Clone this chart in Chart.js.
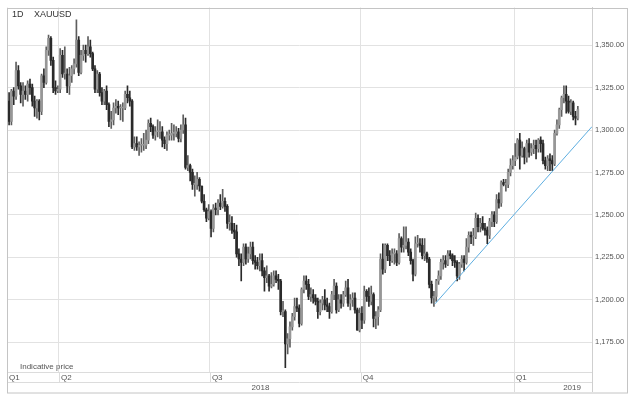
<!DOCTYPE html>
<html>
<head>
<meta charset="utf-8">
<script src="https://cdn.jsdelivr.net/npm/chart.js@4.4.1/dist/chart.umd.min.js"></script>
<style>
  html, body { margin: 0; padding: 0; background: #fff; }
  #wrap { width: 633px; height: 399px; }
</style>
</head>
<body>
<div id="wrap"><canvas id="goldChart" width="633" height="399"></canvas></div>
<script>
// XAUUSD daily candles, one entry per trading day (1 Mar 2018 - 8 Feb 2019)
// grouped by month: Mar, Apr, May, Jun, Jul, Aug, Sep, Oct, Nov, Dec, Jan, Feb
const opens = [
  1317,1305,1323,1320,1335,1326,1321,1323,1321,1327,1325,1317,1313,1317,1311,1332,1328,1347,1354,1341,1325,1323,
  1324,1344,1333,1333,1326,1332,1336,1339,1353,1334,1344,1347,1345,1349,1345,1336,1324,1333,1322,1317,1323,
  1315,1305,1306,1313,1314,1313,1313,1313,1321,1319,1317,1290,1292,1290,1291,1291,1291,1294,1304,1302,1297,1299,1299,
  1299,1294,1292,1297,1297,1298,1298,1299,1295,1300,1303,1278,1279,1275,1268,1268,1271,1267,1258,1253,1248,
  1252,1242,1254,1253,1257,1255,1258,1255,1245,1245,1241,1240,1227,1224,1222,1231,1224,1227,1231,1223,1222,1220,
  1223,1217,1213,1214,1208,1209,1214,1212,1211,1193,1193,1174,1177,1184,1190,1196,1195,1186,1206,1211,1209,1202,1203,
  1201,1199,1193,1198,1200,1197,1196,1193,1203,1208,1194,1200,1198,1203,1207,1198,1200,1201,1194,1182,
  1192,1188,1205,1202,1199,1203,1189,1190,1194,1224,1218,1232,1226,1223,1227,1227,1222,1236,1231,1232,1234,1228,1223,
  1215,1233,1233,1232,1226,1227,1224,1209,1201,1202,1211,1214,1222,1223,1221,1227,1226,1223,1222,1214,1221,1224,
  1222,1231,1238,1237,1237,1248,1243,1245,1242,1241,1238,1246,1250,1246,1259,1257,1269,1268,1268,1275,1279,
  1282,1284,1294,1285,1289,1284,1292,1287,1289,1291,1289,1294,1292,1282,1279,1283,1282,1280,1298,1303,1312,1319,
  1321,1317,1311,1316,1308,1307
];
const highs = [
  1322,1324,1325,1340,1338,1328,1328,1326,1329,1330,1327,1320,1318,1318,1333,1336,1349,1356,1355,1343,1329,1326,
  1348,1347,1349,1336,1337,1338,1342,1365,1355,1347,1350,1350,1355,1353,1346,1338,1335,1334,1325,1324,1326,
  1316,1311,1316,1318,1317,1315,1316,1323,1326,1323,1318,1296,1296,1293,1295,1298,1300,1306,1307,1303,1302,1306,1305,
  1302,1296,1299,1300,1304,1303,1302,1301,1303,1309,1307,1285,1280,1277,1273,1275,1272,1267,1262,1254,1256,
  1253,1256,1257,1259,1262,1265,1260,1256,1250,1249,1245,1244,1230,1227,1233,1233,1231,1234,1234,1226,1225,1227,
  1227,1219,1220,1215,1216,1217,1217,1215,1212,1199,1194,1180,1187,1192,1201,1201,1197,1207,1214,1214,1212,1207,1206,
  1203,1201,1200,1202,1206,1201,1198,1205,1212,1210,1203,1203,1205,1211,1212,1203,1204,1204,1195,1195,
  1196,1208,1206,1207,1208,1204,1193,1196,1227,1233,1233,1233,1229,1230,1230,1229,1239,1237,1243,1243,1236,1230,1224,
  1237,1238,1236,1236,1236,1228,1225,1211,1205,1212,1217,1224,1226,1226,1229,1229,1227,1226,1223,1222,1226,1226,
  1236,1240,1240,1242,1251,1250,1248,1249,1245,1243,1248,1252,1252,1262,1263,1270,1271,1271,1277,1283,1285,
  1292,1295,1298,1293,1290,1294,1295,1292,1294,1294,1295,1296,1294,1284,1285,1286,1285,1300,1306,1313,1320,1326,
  1326,1320,1318,1317,1311,1314
];
const lows = [
  1303,1303,1315,1318,1324,1316,1314,1318,1317,1321,1314,1308,1307,1306,1309,1325,1327,1344,1338,1322,1321,1322,
  1322,1331,1330,1322,1321,1328,1333,1337,1332,1333,1341,1340,1344,1343,1335,1322,1322,1320,1315,1315,1312,
  1302,1301,1303,1310,1309,1306,1305,1312,1316,1314,1289,1288,1288,1285,1287,1288,1289,1292,1299,1295,1294,1296,1295,
  1290,1289,1288,1294,1294,1294,1296,1293,1293,1298,1277,1276,1270,1265,1261,1265,1264,1257,1252,1246,1247,
  1237,1240,1250,1250,1253,1254,1252,1242,1241,1239,1236,1225,1220,1211,1220,1221,1222,1224,1221,1218,1218,1217,
  1214,1205,1210,1205,1207,1208,1210,1206,1191,1190,1160,1168,1172,1182,1188,1193,1184,1185,1204,1206,1200,1199,1198,
  1197,1189,1191,1194,1194,1193,1189,1192,1200,1192,1193,1195,1196,1202,1196,1194,1196,1192,1182,1181,
  1183,1186,1199,1196,1197,1184,1183,1185,1193,1215,1216,1223,1220,1222,1221,1220,1221,1228,1228,1230,1226,1221,1211,
  1214,1231,1228,1224,1223,1222,1207,1198,1196,1199,1209,1212,1218,1219,1220,1224,1220,1219,1211,1212,1219,1217,
  1221,1228,1233,1232,1236,1240,1240,1241,1238,1233,1236,1243,1243,1245,1254,1255,1267,1264,1266,1273,1277,
  1279,1283,1277,1284,1280,1281,1284,1285,1286,1283,1287,1287,1280,1277,1276,1276,1276,1279,1297,1301,1308,1316,
  1310,1310,1309,1306,1303,1306
];
const closes = [
  1305,1323,1320,1335,1326,1321,1323,1321,1327,1325,1317,1313,1317,1311,1332,1328,1347,1354,1341,1325,1323,1324,
  1344,1333,1333,1326,1332,1336,1339,1353,1334,1344,1347,1345,1349,1345,1336,1324,1333,1322,1317,1323,1315,
  1305,1306,1313,1314,1313,1313,1313,1321,1319,1317,1290,1292,1290,1291,1291,1291,1294,1304,1302,1297,1299,1299,1299,
  1294,1292,1297,1297,1298,1298,1299,1295,1300,1303,1278,1279,1275,1268,1268,1271,1267,1258,1253,1248,1252,
  1242,1254,1253,1257,1255,1258,1255,1245,1245,1241,1240,1227,1224,1222,1231,1224,1227,1231,1223,1222,1220,1223,
  1217,1213,1214,1208,1209,1214,1212,1211,1193,1193,1174,1177,1184,1190,1196,1195,1186,1206,1211,1209,1202,1203,1201,
  1199,1193,1198,1200,1197,1196,1193,1203,1208,1194,1200,1198,1203,1207,1198,1200,1201,1194,1182,1192,
  1188,1205,1202,1199,1203,1189,1190,1194,1224,1218,1232,1226,1223,1227,1227,1222,1236,1231,1232,1234,1228,1223,1215,
  1233,1233,1232,1226,1227,1224,1209,1201,1202,1211,1214,1222,1223,1221,1227,1226,1223,1222,1214,1221,1224,1222,
  1231,1238,1237,1237,1248,1243,1245,1242,1241,1238,1246,1250,1246,1259,1257,1269,1268,1268,1275,1279,1282,
  1284,1294,1285,1289,1284,1292,1287,1289,1291,1289,1294,1292,1282,1279,1283,1282,1280,1298,1303,1312,1319,1321,
  1317,1311,1316,1308,1307,1312
];

// axis ticks (x values are trading-day indexes)
const priceTicks = [1175, 1200, 1225, 1250, 1275, 1300, 1325, 1350];
const quarterTicks = [-0.9, 21.5, 86.5, 151.5, 217.5];
const quarterLabels = ["Q1", "Q2", "Q3", "Q4", "Q1"];
const yearTicks = [108.3, 242.5];
const yearLabels = ["2018", "2019"];

// support line from the November low
const trendX = [183.5, 251.1];
const trendY = [1197.6, 1302];

const xMin = -0.9, xMax = 251.1;
const yMin = 1157.4, yMax = 1372.2;

const FONT = '"Liberation Sans", Arial, sans-serif';
const UP = "#979797", DOWN = "#2a2a2a";

const isUp = closes.map((c, i) => c >= opens[i]);
const wickData = highs.map((h, i) => ({ x: i, y: [lows[i], h] }));
const bodyData = closes.map((c, i) => ({ x: i, y: [opens[i], c] }));

// frame, row lines and captions around the plot
const framePlugin = {
  id: "frame",
  afterDraw(chart) {
    const { ctx, chartArea: a, scales } = chart;
    const x = scales.x;
    const line = (x1, y1, x2, y2) => {
      ctx.beginPath();
      ctx.moveTo(x1, y1);
      ctx.lineTo(x2, y2);
      ctx.stroke();
    };
    ctx.save();
    ctx.lineWidth = 1;
    ctx.strokeStyle = "#dcdcdc";
    line(a.left, a.bottom + 10.5, a.right, a.bottom + 10.5);
    quarterTicks.forEach((v, i) => {
      const px = Math.round(x.getPixelForValue(v)) + 0.5;
      line(px, a.bottom, px, a.bottom + (i === quarterTicks.length - 1 ? 20 : 10));
    });
    ctx.strokeStyle = "#cfcfcf";
    line(Math.round(a.right) + 0.5, a.bottom, Math.round(a.right) + 0.5, a.bottom + 20);
    ctx.strokeStyle = "#c4c4c4";
    ctx.strokeRect(Math.round(a.left) + 0.5, Math.round(a.top) + 0.5, 620, a.bottom + 20 - a.top);

    ctx.fillStyle = "#333";
    ctx.textBaseline = "middle";
    ctx.font = "9px " + FONT;
    ctx.fillText("1D", 12, 15);
    ctx.fillText("XAUUSD", 34, 15);
    ctx.fillStyle = "#555";
    ctx.font = "8px " + FONT;
    ctx.fillText("Indicative price", 20, 367);
    ctx.restore();
  },
};

new Chart(document.getElementById("goldChart"), {
  type: "bar",
  data: {
    datasets: [
      {
        type: "line",
        data: trendX.map((v, i) => ({ x: v, y: trendY[i] })),
        borderColor: "#5eaee0",
        borderWidth: 1,
        pointRadius: 0,
        order: 0,
      },
      {
        data: bodyData,
        backgroundColor: isUp.map((u) => (u ? UP : DOWN)),
        barThickness: 2,
        minBarLength: 1,
        grouped: false,
        order: 1,
      },
      {
        data: wickData,
        backgroundColor: isUp.map((u) => (u ? "#5e5e5e" : DOWN)),
        barThickness: 1,
        grouped: false,
        order: 2,
      },
    ],
  },
  options: {
    responsive: false,
    animation: false,
    devicePixelRatio: 1,
    layout: { padding: { left: 7, top: 5, right: 6, bottom: 7 } },
    plugins: { legend: { display: false }, tooltip: { enabled: false } },
    scales: {
      x: {
        type: "linear",
        position: "bottom",
        weight: 0,
        min: xMin,
        max: xMax,
        offset: false,
        grid: { color: "#e2e2e2", offset: false, drawTicks: false },
        border: { display: true, color: "#dcdcdc" },
        afterBuildTicks: (axis) => {
          axis.ticks = quarterTicks.map((v) => ({ value: v }));
        },
        afterFit: (axis) => {
          axis.height = 10;
        },
        ticks: {
          autoSkip: false,
          maxRotation: 0,
          align: "start",
          labelOffset: 2,
          padding: 1,
          color: "#555",
          font: { family: FONT, size: 8 },
          callback: (v, i) => quarterLabels[i],
        },
      },
      x2: {
        type: "linear",
        position: "bottom",
        weight: 1,
        min: xMin,
        max: xMax,
        offset: false,
        grid: { display: false, drawTicks: false, offset: false },
        border: { display: false },
        afterBuildTicks: (axis) => {
          axis.ticks = yearTicks.map((v) => ({ value: v }));
        },
        afterFit: (axis) => {
          axis.height = 10;
        },
        ticks: {
          autoSkip: false,
          maxRotation: 0,
          padding: 1,
          color: "#555",
          font: { family: FONT, size: 8 },
          callback: (v, i) => yearLabels[i],
        },
      },
      y: {
        position: "right",
        min: yMin,
        max: yMax,
        grid: { color: "#e2e2e2", drawTicks: false },
        border: { display: true, color: "#cfcfcf" },
        afterBuildTicks: (axis) => {
          axis.ticks = priceTicks.map((v) => ({ value: v }));
        },
        afterFit: (axis) => {
          axis.width = 35;
        },
        ticks: {
          padding: 3,
          color: "#555",
          font: { family: FONT, size: 7.5 },
          callback: (v) => v.toLocaleString("en-US", { minimumFractionDigits: 2, maximumFractionDigits: 2 }),
        },
      },
    },
  },
  plugins: [framePlugin],
});
</script>
</body>
</html>
